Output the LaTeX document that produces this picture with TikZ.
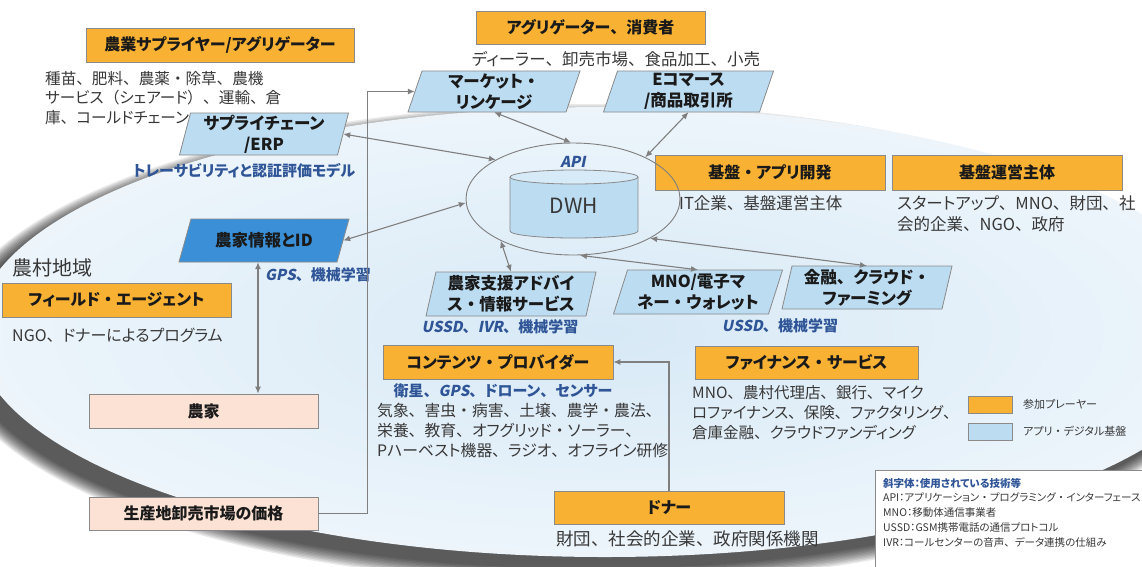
\documentclass[tikz,border=0pt]{standalone}
\usepackage{fontspec}
\setmainfont{Noto Sans CJK JP}[RawFeature=+palt]
\newfontfamily\slfont[FakeSlant=0.2]{Noto Sans CJK JP}
\usetikzlibrary{arrows.meta,shapes.geometric}
% full-width punctuation on top of proportional kana
\catcode`、=\active
\def、{\hbox to 1em{\char"3001\hss}}
\catcode`・=\active
\def・{\hbox to 1em{\hss\char"30FB\hss}}
\catcode`（=\active
\def（{\hbox to 1em{\hss\char"FF08}}
\catcode`）=\active
\def）{\hbox to 1em{\char"FF09\hss}}
\definecolor{orng}{HTML}{F8B133}
\definecolor{lblue}{HTML}{BCDCF2}
\definecolor{dblue}{HTML}{3A8FD6}
\definecolor{peach}{HTML}{FBE2D4}
\definecolor{bgray}{HTML}{8A8A8A}
\definecolor{agray}{HTML}{7F7F7F}
\definecolor{tblue}{HTML}{2F5597}
\definecolor{txt}{HTML}{1A1A1A}
\definecolor{btxt}{HTML}{383838}
\definecolor{ellin}{HTML}{D7E9F6}
\definecolor{ellout}{HTML}{EDF5FB}
\tikzset{
  obox/.style={draw=bgray, line width=0.8pt, fill=orng, minimum width=230pt, minimum height=34pt,
    inner sep=0pt, font=\fontsize{16}{18}\selectfont\bfseries, text=txt},
  pbox/.style={draw=bgray, line width=0.8pt, fill=peach, minimum width=229pt, minimum height=34pt,
    inner sep=0pt, font=\fontsize{16}{18}\selectfont\bfseries, text=txt},
  ptext/.style={inner sep=0pt, align=center, font=\fontsize{16.5}{21}\selectfont\bfseries, text=txt},
  pshape/.style={draw=bgray, line width=0.8pt},
  body/.style={inner sep=0pt, align=left, anchor=west, font=\fontsize{15.8}{19.7}\selectfont, text=btxt},
  tech/.style={inner sep=0pt, font=\fontsize{15}{16}\selectfont\bfseries, text=tblue},
  small/.style={inner sep=0pt, anchor=west, font=\fontsize{11}{12}\selectfont, text=btxt},
  arr/.style={draw=agray, line width=1.1pt, {Latex[length=7pt,width=6pt]}-{Latex[length=7pt,width=6pt]}},
  arr1/.style={draw=agray, line width=1.1pt, -{Latex[length=7pt,width=6pt]}},
}
% #1 name, #2 cx, #3 cy, #4 width, #5 height, #6 skew, #7 fill, #8 text
\newcommand\para[8]{%
  \draw[pshape, fill=#7] ({#2-#4/2-#6/2},{#3+#5/2}) -- ({#2+#4/2-#6/2},{#3+#5/2})
     -- ({#2+#4/2+#6/2},{#3-#5/2}) -- ({#2-#4/2+#6/2},{#3-#5/2}) -- cycle;
  \node[ptext, minimum width=#4, minimum height=#5] (#1) at (#2,#3) {#8};}
\begin{document}
\begin{tikzpicture}[x=1pt,y=-1pt]
\useasboundingbox (0,0) rectangle (1142,566);
\clip (0,0) rectangle (1142,566);
\fill[white] (0,0) rectangle (1142,566);
% background ellipse with shadow
\foreach \i in {0,...,10}
  \fill[black,opacity=0.085] (591,344) ellipse [x radius={(630+1.5*\i)*1pt}, y radius={(225+1.5*\i)*1pt}];
\shade[inner color=ellin, outer color=ellout] (605,332) ellipse [x radius=630pt, y radius=225pt];

% orange boxes
\node[obox, minimum width=268pt] (sup) at (220,45) {農業サプライヤー/アグリゲーター};
\node[obox, minimum width=229pt, minimum height=33pt] (agg) at (590.5,27.5) {アグリゲーター、消費者};
\node[obox, minimum height=35pt] (dev) at (770,172.5) {基盤・アプリ開発};
\node[obox, minimum height=35pt] (ops) at (1007,172.5) {基盤運営主体};
\node[obox, minimum width=229pt] (field) at (116.5,300) {フィールド・エージェント};
\node[obox] (content) at (498,362) {コンテンツ・プロバイダー};
\node[obox, minimum width=223pt, minimum height=33pt] (finsvc) at (806.5,362.5) {ファイナンス・サービス};
\node[obox, minimum height=33pt] (donor) at (669,507.5) {ドナー};

% peach boxes
\node[pbox] (farmer) at (203.5,411) {農家};
\node[pbox, minimum height=33pt] (price) at (203.5,513.5) {生産地卸売市場の価格};

% parallelograms
\para{sc}{264}{134}{158}{42}{11}{lblue}{サプライチェーン\\/ERP}
\para{market}{494}{91.5}{158}{41}{14}{lblue}{マーケット・\\リンケージ}
\para{ecom}{688.5}{91.5}{156}{41}{14}{lblue}{Eコマース\\/商品取引所}
\para{farmid}{264}{240.5}{158}{43}{12}{dblue}{農家情報とID}
\para{advice}{511}{294}{160}{44}{10}{lblue}{農家支援アドバイ\\ス・情報サービス}
\para{mno}{698}{292}{155}{44}{14}{lblue}{MNO/電子マ\\ネー・ウォレット}
\para{fin}{867}{287.5}{160}{43}{10}{lblue}{金融、クラウド・\\ファーミング}

% DWH
\node[draw=agray, line width=0.9pt, ellipse, minimum width=214pt, minimum height=112pt, inner sep=0pt] (api) at (573,199) {};
\fill[lblue] (510,177) rectangle (638,231);
\fill[lblue] (574,231) ellipse [x radius=64pt, y radius=7pt];
\draw[bgray, line width=0.8pt] (510,177) -- (510,231) arc[start angle=180, end angle=360, x radius=64pt, y radius=7pt] -- (638,177);
\draw[bgray, line width=0.8pt, fill=lblue!60!white] (574,177) ellipse [x radius=64pt, y radius=7pt];
\node[inner sep=0pt, font=\fontsize{21}{21}\selectfont, text=btxt] (dwh) at (574,206) {DWH};
\node[tech] (apil) at (573,162) {\slfont API};

% descriptive texts
\node[body, font=\fontsize{15.6}{19.8}\selectfont] (supd) at (45,98) {種苗、肥料、農薬・除草、農機\\サービス（シェアード）、運輸、倉\\庫、コールドチェーン};
\node[body, anchor=center, font=\fontsize{16.5}{19.8}\selectfont] (aggd) at (616,59) {ディーラー、卸売市場、食品加工、小売};
\node[body, font=\fontsize{16.5}{20}\selectfont] (devd) at (679,203) {IT企業、基盤運営主体};
\node[body, font=\fontsize{16.5}{20.5}\selectfont] (opsd) at (897,213.5) {スタートアップ、MNO、財団、社\\会的企業、NGO、政府};
\node[body, font=\fontsize{20}{24}\selectfont] (rural) at (12,268) {農村地域};
\node[body, font=\fontsize{16}{20}\selectfont] (fieldd) at (12,335) {NGO、ドナーによるプログラム};
\node[body] (contentd) at (377,430.5) {気象、害虫・病害、土壌、農学・農法、\\栄養、教育、オフグリッド・ソーラー、\\Pハーベスト機器、ラジオ、オフライン研修};
\node[body, font=\fontsize{15.5}{19.7}\selectfont] (finsvcd) at (692,412.5) {MNO、農村代理店、銀行、マイク\\ロファイナンス、保険、ファクタリング、\\倉庫金融、クラウドファンディング};
\node[body, font=\fontsize{17.5}{20}\selectfont] (donord) at (556,539) {財団、社会的企業、政府関係機関};

% technology labels
\node[tech] (sct) at (244,171) {トレーサビリティと認証評価モデル};
\node[tech, anchor=west] (farmidt) at (265,275) {{\slfont GPS}、機械学習};
\node[tech] (advicet) at (500,327) {{\slfont USSD}、{\slfont IVR}、機械学習};
\node[tech] (mnot) at (780,326) {{\slfont USSD}、機械学習};
\node[tech] (contentt) at (503,391) {衛星、{\slfont GPS}、ドローン、センサー};

% connectors
\draw[arr] (sc.east) -- (api.153);
\draw[arr] (market.south) -- (api.92);
\draw[arr] (ecom.south) -- (api.30);
\draw[arr] (farmid.east) -- (api.182);
\draw[arr] (advice.north) -- (api.210);
\draw[arr] (mno.north) -- (api.277);
\draw[arr] (fin.north) -- (api.333);
\draw[arr] ([xshift=-6pt]farmid.south) -- ([xshift=-6pt]farmid.south |- farmer.north);
\draw[arr1] (price.east) -- ++(49,0) |- (market.west);
\draw[arr1] (donor.north) |- (content.east);

% legend
\node[draw=bgray, fill=orng, minimum width=44pt, minimum height=17pt, inner sep=0pt] (lg1) at (990,404.5) {};
\node[draw=bgray, fill=lblue, minimum width=44pt, minimum height=17pt, inner sep=0pt] (lg2) at (990,431.5) {};
\node[small] (lg1t) at (1023,404.5) {参加プレーヤー};
\node[small] (lg2t) at (1023,431.5) {アプリ・デジタル基盤};

% note box
\node[draw=bgray, line width=0.8pt, fill=white, anchor=north west, minimum width=280pt, minimum height=100pt, inner sep=0pt] (note) at (875,470) {};
\node[anchor=west, align=left, inner sep=0pt, font=\fontsize{10.5}{14.7}\selectfont, text=btxt] (notet) at (883,512.5)
  {{\color{tblue}\bfseries 斜字体：使用されている技術等}\\API：アプリケーション・プログラミング・インターフェース\\MNO：移動体通信事業者\\USSD：GSM携帯電話の通信プロトコル\\IVR：コールセンターの音声、データ連携の仕組み};
\end{tikzpicture}
\end{document}
